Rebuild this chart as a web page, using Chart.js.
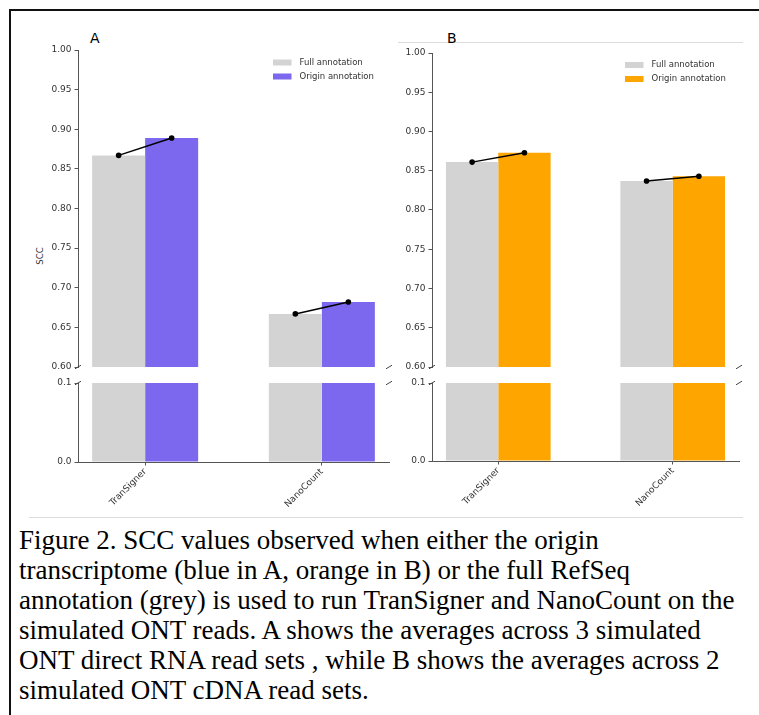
<!DOCTYPE html>
<html>
<head>
<meta charset="utf-8">
<script src="https://cdn.jsdelivr.net/npm/chart.js@4.4.1/dist/chart.umd.min.js"></script>
<style>
  body { margin: 0; background: #fff; }
  #page { position: relative; width: 759px; height: 715px; overflow: hidden; font-family: "DejaVu Sans", sans-serif; }
  canvas { position: absolute; }
  .rule { position: absolute; background: #111; }
  .sep { position: absolute; height: 1px; background: #dcdcdc; }
  .tag { position: absolute; font-size: 14px; line-height: 16px; color: #000; }
  .ylab { position: absolute; font-size: 8.5px; color: #333; transform: translate(-50%, -50%) rotate(-90deg); white-space: nowrap; }
  .caption { position: absolute; left: 19px; top: 525px; font-family: "Liberation Serif", "Times New Roman", serif;
             font-size: 27px; line-height: 30px; color: #000; white-space: nowrap; }
</style>
</head>
<body>
<div id="page">
  <div class="rule" style="left:9px;top:9px;width:2px;height:706px"></div>
  <div class="rule" style="left:9px;top:9px;width:750px;height:2px"></div>
  <div class="sep" style="left:398px;top:42px;width:345px"></div>
  <div class="sep" style="left:29px;top:517px;width:714px"></div>

  <div class="tag" style="left:90px;top:30px">A</div>
  <div class="tag" style="left:447px;top:30px">B</div>
  <div class="ylab" style="left:40px;top:256px">SCC</div>

  <canvas id="aTop"></canvas>
  <canvas id="aBottom"></canvas>
  <canvas id="bTop"></canvas>
  <canvas id="bBottom"></canvas>

  <div class="caption">Figure 2. SCC values observed when either the origin<br>transcriptome (blue in A, orange in B) or the full RefSeq<br>annotation (grey) is used to run TranSigner and NanoCount on the<br>simulated ONT reads. A shows the averages across 3 simulated<br>ONT direct RNA read sets , while B shows the averages across 2<br>simulated ONT cDNA read sets.</div>
</div>

<script>
// data
const categories = ['TranSigner', 'NanoCount'];
const seriesNames = ['Full annotation', 'Origin annotation'];
const fullA = [0.867, 0.667];
const originA = [0.889, 0.682];
const fullB = [0.861, 0.837];
const originB = [0.873, 0.843];
const upperTicks = [0.60, 0.65, 0.70, 0.75, 0.80, 0.85, 0.90, 0.95, 1.00];
const lowerTicks = [0.0, 0.1];

const GREY = '#d3d3d3';
const PURPLE = '#7b68ee';
const ORANGE = '#ffa500';
const AXIS = '#555';
const TEXT = '#333';

// bar width in category units, x limits like matplotlib's 5% margin
const BAR_W = 0.3;
const span = categories.length - 1 + 2 * BAR_W;
const X_MIN = -BAR_W - 0.05 * span;
const X_MAX = categories.length - 1 + BAR_W + 0.05 * span;

const AXIS_W = 50, PAD_T = 10, PAD_R = 12, X_AXIS_H = 60;

const tickFont = { family: 'DejaVu Sans', size: 9 };

// little "/" marks where the y axis is broken
const breakMarks = {
  id: 'breakMarks',
  afterDraw(chart, args, opts) {
    const { ctx, chartArea: a } = chart;
    const y = opts.edge === 'bottom' ? a.bottom : a.top;
    ctx.save();
    ctx.strokeStyle = '#444';
    ctx.lineWidth = 1;
    [a.left, a.right].forEach(x => {
      ctx.beginPath();
      ctx.moveTo(x - 3, y + 1.8);
      ctx.lineTo(x + 3, y - 1.8);
      ctx.stroke();
    });
    ctx.restore();
  }
};

// legend drawn inside the plot, top right, one row per bar series
const innerLegend = {
  id: 'innerLegend',
  afterDraw(chart, args, opts) {
    if (!opts.show) return;
    const { ctx, chartArea: a } = chart;
    const items = chart.data.datasets.filter(d => d.type !== 'line');
    ctx.save();
    ctx.font = '8.5px "DejaVu Sans"';
    ctx.textBaseline = 'middle';
    items.forEach((d, i) => {
      const x = a.right - opts.right;
      const y = a.top + opts.top + i * 14;
      ctx.fillStyle = d.backgroundColor;
      ctx.fillRect(x, y - 3, 18.5, 6);
      ctx.fillStyle = TEXT;
      ctx.fillText(d.label, x + 26.5, y);
    });
    ctx.restore();
  }
};

function place(canvas, area, padBottom) {
  canvas.style.left = (area.l - AXIS_W) + 'px';
  canvas.style.top = (area.t - PAD_T) + 'px';
  canvas.width = area.r - area.l + AXIS_W + PAD_R;
  canvas.height = area.b - area.t + PAD_T + padBottom;
}

function makePanel(prefix, full, origin, color, topArea, bottomArea, legendPos) {
  ['Top', 'Bottom'].forEach(part => {
    const upper = part === 'Top';
    const area = upper ? topArea : bottomArea;
    const canvas = document.getElementById(prefix + part);
    place(canvas, area, upper ? PAD_T : X_AXIS_H);

    const datasets = [
      { label: seriesNames[0], data: categories.map((c, i) => ({ x: i, y: full[i] })),
        backgroundColor: GREY, categoryPercentage: 2 * BAR_W, barPercentage: 1, clip: 0, order: 1 },
      { label: seriesNames[1], data: categories.map((c, i) => ({ x: i, y: origin[i] })),
        backgroundColor: color, categoryPercentage: 2 * BAR_W, barPercentage: 1, clip: 0, order: 1 }
    ];
    if (upper) {
      categories.forEach((c, i) => {
        datasets.push({
          type: 'line',
          data: [{ x: i - BAR_W / 2, y: full[i] }, { x: i + BAR_W / 2, y: origin[i] }],
          borderColor: '#000', borderWidth: 1.5,
          pointRadius: 2.8, pointBackgroundColor: '#000', pointBorderWidth: 0,
          order: 0
        });
      });
    }

    new Chart(canvas, {
      type: 'bar',
      data: { datasets },
      plugins: [breakMarks, innerLegend],
      options: {
        responsive: false,
        animation: false,
        layout: { padding: { top: PAD_T, right: PAD_R, bottom: upper ? PAD_T : 0, left: 0 } },
        plugins: {
          legend: { display: false },
          tooltip: { enabled: false },
          breakMarks: { edge: upper ? 'bottom' : 'top' },
          innerLegend: { show: upper, right: legendPos.right, top: legendPos.top }
        },
        scales: {
          x: {
            type: 'linear',
            display: !upper,
            offset: false,
            min: X_MIN,
            max: X_MAX,
            afterBuildTicks: s => { s.ticks = categories.map((c, i) => ({ value: i })); },
            afterFit: s => { s.height = upper ? 0 : X_AXIS_H; },
            ticks: { callback: v => categories[v], minRotation: 45, maxRotation: 45, autoSkip: false,
                     color: TEXT, font: tickFont, padding: 1 },
            grid: { offset: false, drawOnChartArea: false, tickLength: 3.5, color: AXIS },
            border: { color: AXIS, width: 1 }
          },
          y: {
            min: upper ? upperTicks[0] : lowerTicks[0],
            max: upper ? upperTicks[upperTicks.length - 1] : lowerTicks[lowerTicks.length - 1],
            afterBuildTicks: s => { s.ticks = (upper ? upperTicks : lowerTicks).map(v => ({ value: v })); },
            afterFit: s => { s.width = AXIS_W; },
            ticks: { callback: v => v.toFixed(upper ? 2 : 1), color: TEXT, font: tickFont, padding: 3 },
            grid: { drawOnChartArea: false, tickLength: 3.5, color: AXIS },
            border: { color: AXIS, width: 1 }
          }
        }
      }
    });
  });
}

makePanel('a', fullA, originA, PURPLE,
  { l: 78, r: 389, t: 50, b: 367 }, { l: 78, r: 389, t: 383, b: 462 }, { right: 116, top: 12.5 });
makePanel('b', fullB, originB, ORANGE,
  { l: 432, r: 739, t: 53, b: 367 }, { l: 432, r: 739, t: 383, b: 461 }, { right: 114, top: 12 });
</script>
</body>
</html>
